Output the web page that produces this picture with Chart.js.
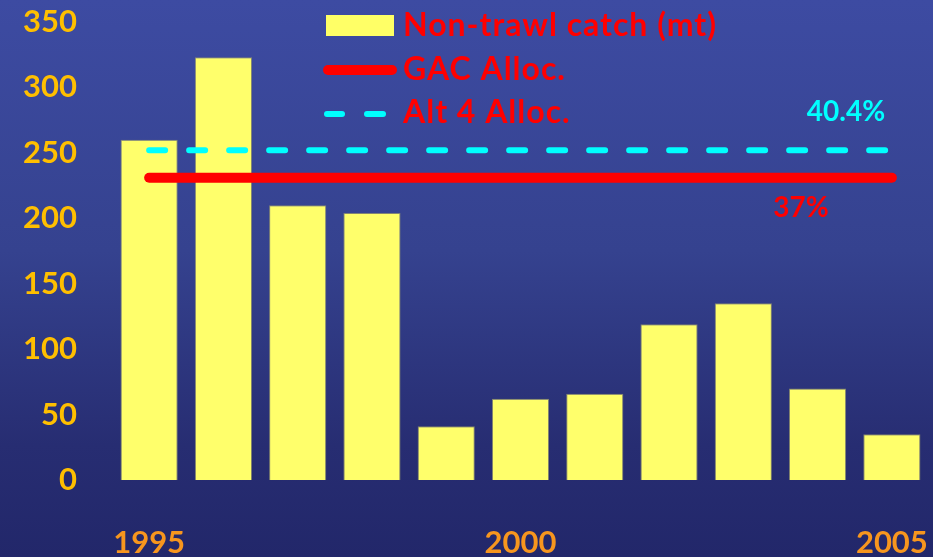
<!DOCTYPE html>
<html>
<head>
<meta charset="utf-8">
<script src="https://cdn.jsdelivr.net/npm/chart.js@4"></script>
<style>
html,body{margin:0;padding:0;width:933px;height:557px;overflow:hidden;}
body{background:linear-gradient(180deg,#3d4ba2 0%,#35428f 45%,#272d72 80%,#22276a 100%);}
#wrap{position:relative;width:933px;height:557px;}
</style>
</head>
<body>
<div id="wrap"><canvas id="c" width="933" height="557"></canvas></div>
<script>
const years = ['1995','1996','1997','1998','1999','2000','2001','2002','2003','2004','2005'];
const shownYears = ['1995','2000','2005'];
const catch_mt = [260, 323, 210, 204, 41, 62, 66, 119, 135, 70, 35];
const gacAlloc = [231, 231, 231, 231, 231, 231, 231, 231, 231, 231, 231];
const alt4Alloc = [252, 252, 252, 252, 252, 252, 252, 252, 252, 252, 252];
const yTicks = [0, 50, 100, 150, 200, 250, 300, 350];
const legendLabels = ['Non-trawl catch (mt)', 'GAC Alloc.', 'Alt 4 Alloc.'];
const pctLabels = ['40.4%', '37%'];

const FONT = 'Lato, "Open Sans", sans-serif';

const overlay = {
  id: 'overlay',
  afterDraw(chart) {
    const ctx = chart.ctx;
    const y = chart.scales.y;
    ctx.save();
    ctx.font = 'bold 32px ' + FONT;
    try { ctx.letterSpacing = '1px'; } catch (e) {}
    ctx.textBaseline = 'middle';
    ctx.textAlign = 'left';
    // legend
    ctx.fillStyle = '#ffff66';
    ctx.fillRect(326, 15, 68, 21);
    ctx.fillStyle = '#ff0000';
    ctx.fillText(legendLabels[0], 403, 26);
    ctx.strokeStyle = '#ff0000';
    ctx.lineWidth = 10; ctx.lineCap = 'round';
    ctx.beginPath(); ctx.moveTo(328, 70); ctx.lineTo(392, 70); ctx.stroke();
    ctx.fillText(legendLabels[1], 403, 70);
    ctx.strokeStyle = '#00ffff';
    ctx.lineWidth = 6;
    ctx.beginPath(); ctx.moveTo(327, 114); ctx.lineTo(342, 114); ctx.stroke();
    ctx.beginPath(); ctx.moveTo(367, 114); ctx.lineTo(383, 114); ctx.stroke();
    ctx.fillText(legendLabels[2], 403, 113);
    // percentage labels
    try { ctx.letterSpacing = '0px'; } catch (e) {}
    ctx.font = 'bold 28px ' + FONT;
    ctx.textAlign = 'center';
    ctx.fillStyle = '#00ffff';
    ctx.fillText(pctLabels[0], 846, y.getPixelForValue(alt4Alloc[10]) - 38);
    ctx.fillStyle = '#ff0000';
    ctx.fillText(pctLabels[1], 801, y.getPixelForValue(gacAlloc[10]) + 30);
    ctx.restore();
  }
};

new Chart(document.getElementById('c'), {
  type: 'bar',
  data: {
    labels: years,
    datasets: [
      {
        type: 'bar', label: legendLabels[0], data: catch_mt,
        backgroundColor: '#ffff6b', borderColor: 'rgba(150,150,110,0.8)', borderWidth: 1,
        categoryPercentage: 0.77, barPercentage: 1.0, order: 3
      },
      {
        type: 'line', label: legendLabels[1], data: gacAlloc,
        borderColor: '#ff0000', borderWidth: 10, borderCapStyle: 'round',
        pointRadius: 0, fill: false, order: 2
      },
      {
        type: 'line', label: legendLabels[2], data: alt4Alloc,
        borderColor: '#00ffff', borderWidth: 6, borderCapStyle: 'round',
        borderDash: [16, 24], pointRadius: 0, fill: false, order: 1
      }
    ]
  },
  plugins: [overlay],
  options: {
    responsive: false,
    animation: false,
    devicePixelRatio: 1,
    layout: { padding: { top: 22, right: 4, left: 0, bottom: 0 } },
    plugins: { legend: { display: false }, tooltip: { enabled: false } },
    scales: {
      x: {
        grid: { display: false, drawTicks: false },
        border: { display: false },
        ticks: {
          autoSkip: false, maxRotation: 0, padding: 44,
          color: '#f7961e', font: { family: FONT, size: 31, weight: 'bold' },
          callback: function(v, i) { const l = years[i]; return shownYears.includes(l) ? l : ''; }
        },
        afterFit: s => { s.height = 77; s.paddingLeft = 0; s.paddingRight = 0; }
      },
      y: {
        min: 0, max: 350,
        grid: { display: false, drawTicks: false },
        border: { display: false },
        afterBuildTicks: s => { s.ticks = yTicks.map(v => ({ value: v })); },
        ticks: {
          padding: 35, color: '#ffbf00',
          font: { family: FONT, size: 31, weight: 'bold' }
        },
        afterFit: s => { s.width = 112; s.paddingTop = 0; s.paddingBottom = 0; }
      }
    }
  }
});
</script>
</body>
</html>
